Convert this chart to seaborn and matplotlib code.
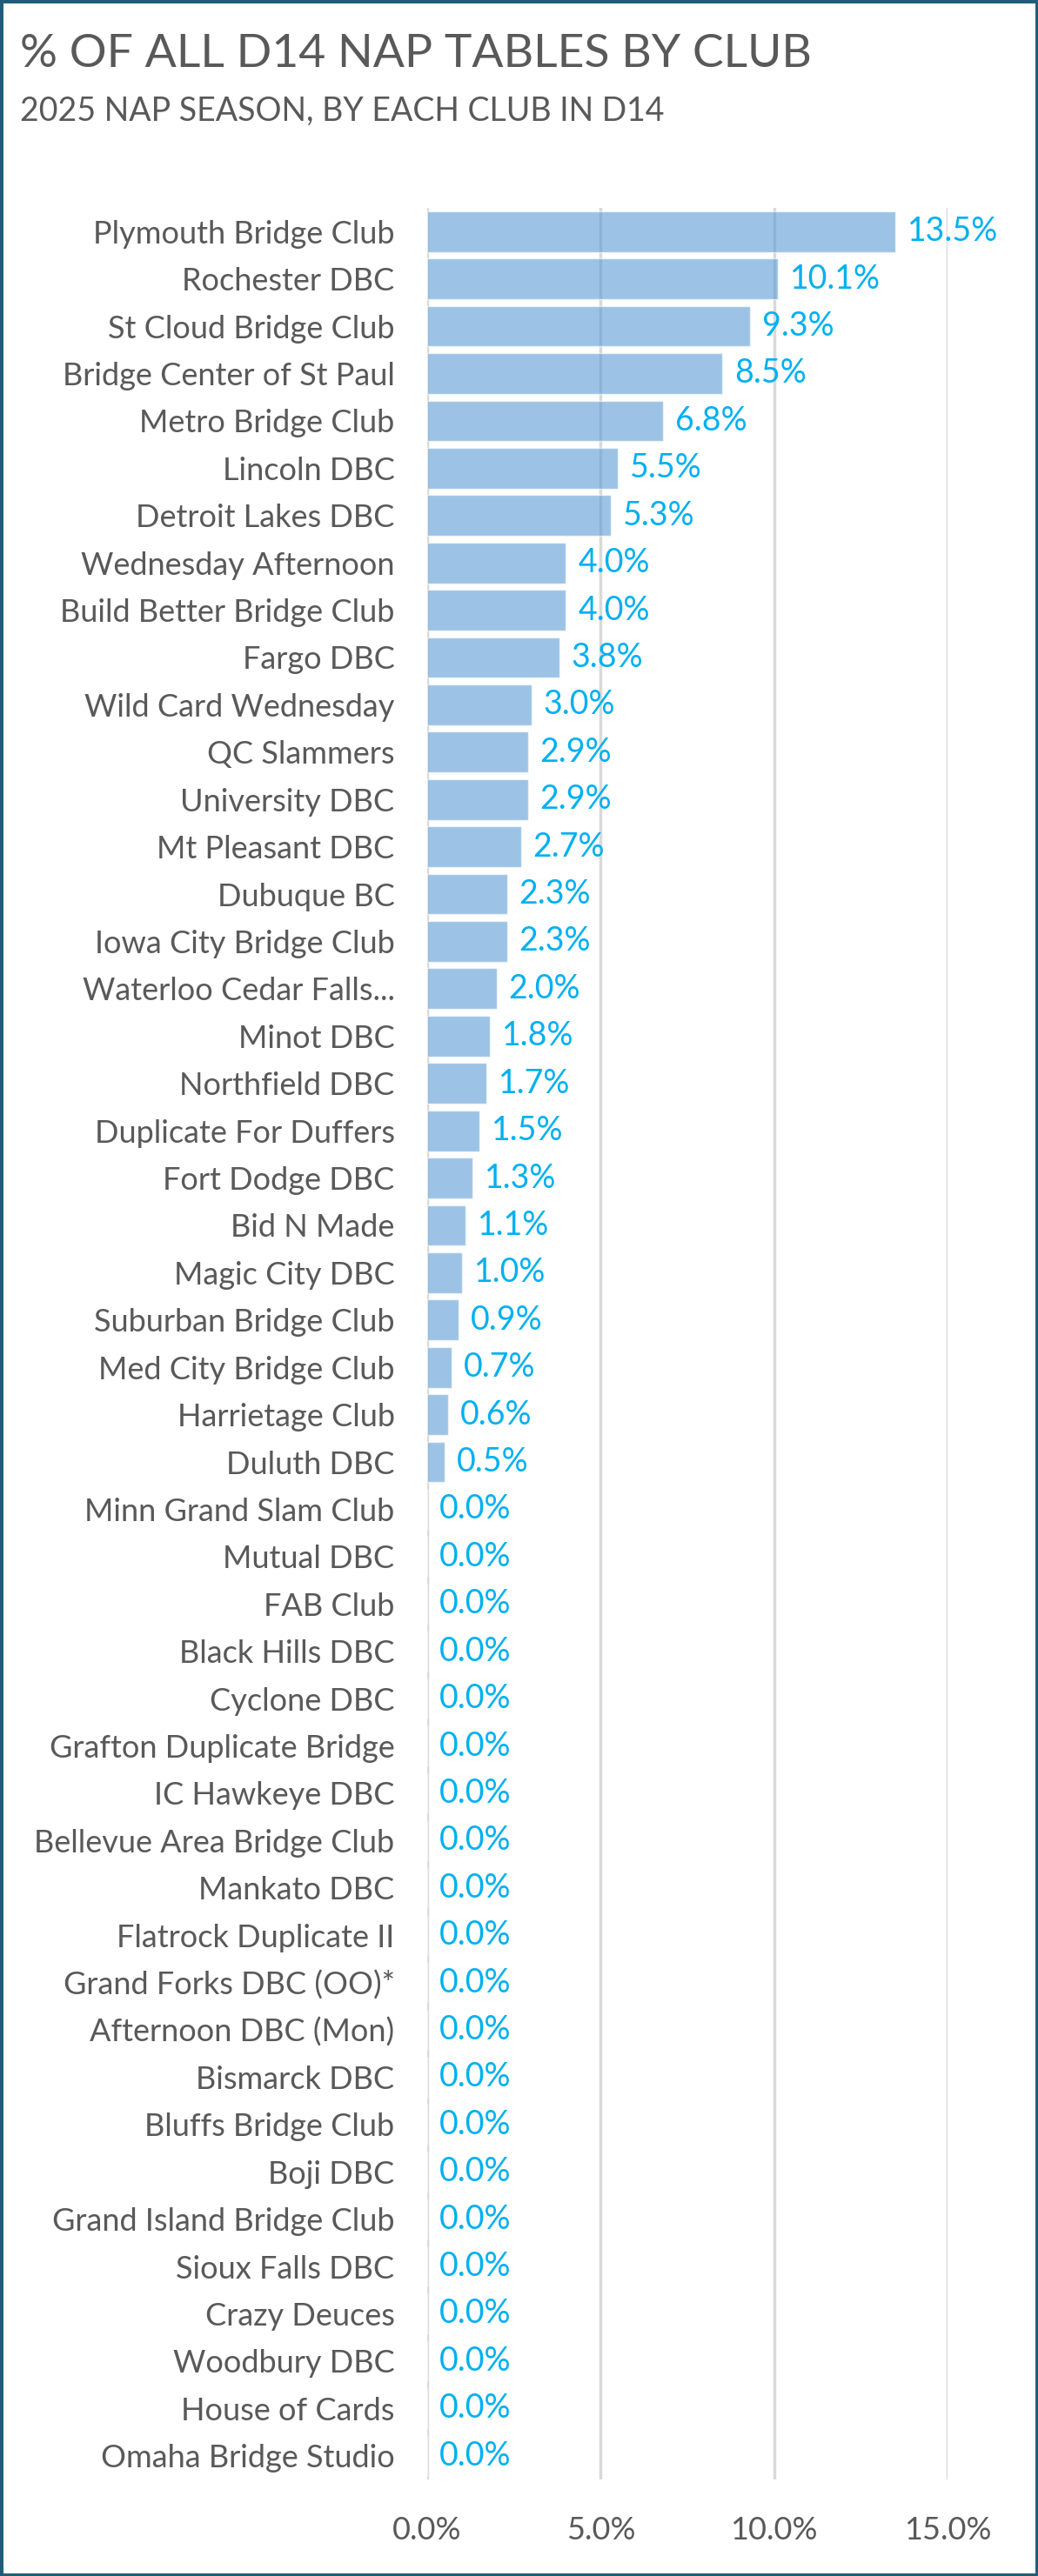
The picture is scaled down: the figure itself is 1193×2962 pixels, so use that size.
import matplotlib
matplotlib.use('Agg')
import matplotlib.pyplot as plt
import pandas as pd
import seaborn as sns
from matplotlib.patches import Rectangle

# club names and % of all D14 NAP tables
clubs = ['Plymouth Bridge Club', 'Rochester DBC', 'St Cloud Bridge Club',
         'Bridge Center of St Paul', 'Metro Bridge Club', 'Lincoln DBC',
         'Detroit Lakes DBC', 'Wednesday Afternoon', 'Build Better Bridge Club',
         'Fargo DBC', 'Wild Card Wednesday', 'QC Slammers', 'University DBC',
         'Mt Pleasant DBC', 'Dubuque BC', 'Iowa City Bridge Club',
         'Waterloo Cedar Falls...', 'Minot DBC', 'Northfield DBC',
         'Duplicate For Duffers', 'Fort Dodge DBC', 'Bid N Made',
         'Magic City DBC', 'Suburban Bridge Club', 'Med City Bridge Club',
         'Harrietage Club', 'Duluth DBC', 'Minn Grand Slam Club', 'Mutual DBC',
         'FAB Club', 'Black Hills DBC', 'Cyclone DBC', 'Grafton Duplicate Bridge',
         'IC Hawkeye DBC', 'Bellevue Area Bridge Club', 'Mankato DBC',
         'Flatrock Duplicate II', 'Grand Forks DBC (OO)*', 'Afternoon DBC (Mon)',
         'Bismarck DBC', 'Bluffs Bridge Club', 'Boji DBC',
         'Grand Island Bridge Club', 'Sioux Falls DBC', 'Crazy Deuces',
         'Woodbury DBC', 'House of Cards', 'Omaha Bridge Studio']
pct = [13.5, 10.1, 9.3, 8.5, 6.8, 5.5, 5.3, 4.0, 4.0, 3.8, 3.0, 2.9, 2.9,
       2.7, 2.3, 2.3, 2.0, 1.8, 1.7, 1.5, 1.3, 1.1, 1.0, 0.9, 0.7, 0.6, 0.5,
       0, 0, 0, 0, 0, 0, 0, 0, 0, 0, 0, 0, 0, 0, 0, 0, 0, 0, 0, 0, 0]
xticks = [0, 5, 10, 15]

df = pd.DataFrame({'club': clubs, 'pct': pct})

sns.set_style('white')
plt.rcParams['font.family'] = ['Lato', 'DejaVu Sans']

grey = '#595959'
fig = plt.figure(figsize=(11.93, 29.62), dpi=100)
ax = fig.add_axes([0.4116, 0.0375, 0.5012, 0.8818])

sns.barplot(data=df, y='club', x='pct', orient='h', color='#5B9BD5',
            alpha=0.6, width=0.86, saturation=1, ax=ax, zorder=2)
ax.bar_label(ax.containers[0], fmt='%.1f%%', padding=10, fontsize=27,
             color='#00B0F0')

ax.set_xlim(0, 15)
ax.set_ylim(len(clubs) - 0.5, -0.5)
ax.set_xticks(xticks)
ax.set_xticklabels([f'{t:.1f}%' for t in xticks])
ax.set_xlabel('')
ax.set_ylabel('')
ax.grid(axis='x', color='#D9D9D9', linewidth=2.5, zorder=1)
ax.set_axisbelow(True)
for s in ax.spines.values():
    s.set_visible(False)
ax.tick_params(axis='y', length=0, pad=27, labelsize=26, labelcolor=grey)
ax.tick_params(axis='x', length=0, pad=30, labelsize=26, labelcolor=grey)

fig.text(0.019, 0.979, '% OF ALL D14 NAP TABLES BY CLUB', fontsize=38.5,
         color=grey, va='center', ha='left')
fig.text(0.019, 0.9568, '2025 NAP SEASON, BY EACH CLUB IN D14', fontsize=27,
         color=grey, va='center', ha='left')

fig.patches.append(Rectangle((0, 0), 1, 1, transform=fig.transFigure,
                             fill=False, edgecolor='#1F5C7A', linewidth=5))

fig.savefig('out.png', dpi=100, facecolor='white')
